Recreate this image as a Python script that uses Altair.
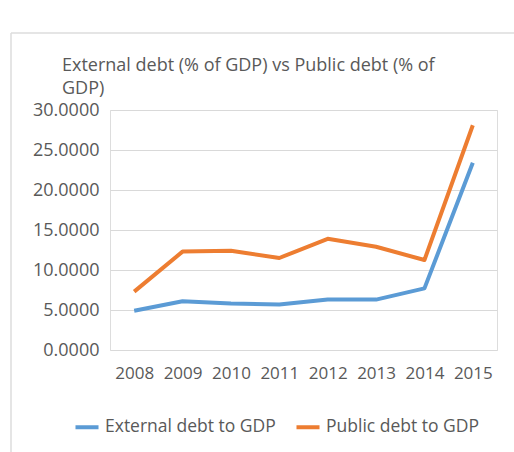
import altair as alt
import pandas as pd

years = ["2008", "2009", "2010", "2011", "2012", "2013", "2014", "2015"]
external_debt = [4.9, 6.1, 5.8, 5.7, 6.3, 6.3, 7.7, 23.4]
public_debt = [7.3, 12.3, 12.4, 11.5, 13.9, 12.9, 11.25, 28.1]
series_names = ["External debt to GDP", "Public debt to GDP"]
series_colors = ["#5B9BD5", "#ED7D31"]
title_lines = ["External debt (% of GDP) vs Public debt (% of", "GDP)"]

rows = []
for y, e, p in zip(years, external_debt, public_debt):
    rows.append({"year": y, "series": series_names[0], "value": e})
    rows.append({"year": y, "series": series_names[1], "value": p})
df = pd.DataFrame(rows)

FONT = "Open Sans"
GRAY = "#595959"

lines = alt.Chart(df).mark_line(strokeWidth=4, strokeCap="butt", strokeJoin="round").encode(
    x=alt.X("year:O", sort=years, title=None,
            axis=alt.Axis(labelAngle=0, domain=False, ticks=False, grid=False,
                          labelPadding=15, labelFontSize=17, labelColor=GRAY, labelFont=FONT)),
    y=alt.Y("value:Q", title=None,
            scale=alt.Scale(domain=[0, 30], nice=False, zero=True),
            axis=alt.Axis(values=[0, 5, 10, 15, 20, 25, 30], format=".4f", domain=False, ticks=False,
                          gridColor="#D9D9D9", gridWidth=1, labelPadding=11,
                          labelFontSize=18, labelColor=GRAY, labelFont=FONT)),
    color=alt.Color("series:N", sort=series_names,
                    scale=alt.Scale(domain=series_names, range=series_colors),
                    legend=alt.Legend(title=None, orient="none", direction="horizontal",
                                      legendX=-37, legendY=303, symbolType="stroke",
                                      symbolSize=530, symbolStrokeWidth=4, labelFontSize=17.5,
                                      labelColor=GRAY, labelFont=FONT, columnPadding=12,
                                      labelOffset=4, labelLimit=400)),
)

frame = alt.Chart(alt.Data(values=[{}])).mark_rule(color="#DDDDDD", strokeWidth=1.5)
top_border = frame.encode(x=alt.value(-99), x2=alt.value(404), y=alt.value(-77))
left_border = frame.encode(x=alt.value(-99), y=alt.value(-77), y2=alt.value(342))

title_base = alt.Chart(alt.Data(values=[{}])).mark_text(
    align="left", baseline="alphabetic", fontSize=18, font=FONT, color=GRAY)
title1 = title_base.encode(x=alt.value(-48), y=alt.value(-39), text=alt.value(title_lines[0]))
title2 = title_base.encode(x=alt.value(-48), y=alt.value(-16), text=alt.value(title_lines[1]))

chart = alt.layer(top_border, left_border, title1, title2, lines).properties(
    width=387, height=240,
    padding={"left": 110, "top": 110, "right": 17, "bottom": 102},
    autosize=alt.AutoSizeParams(type="none"),
).configure_view(stroke=None).configure(background="white")

chart.save("out.html", embed_options={"renderer": "svg", "actions": False})
